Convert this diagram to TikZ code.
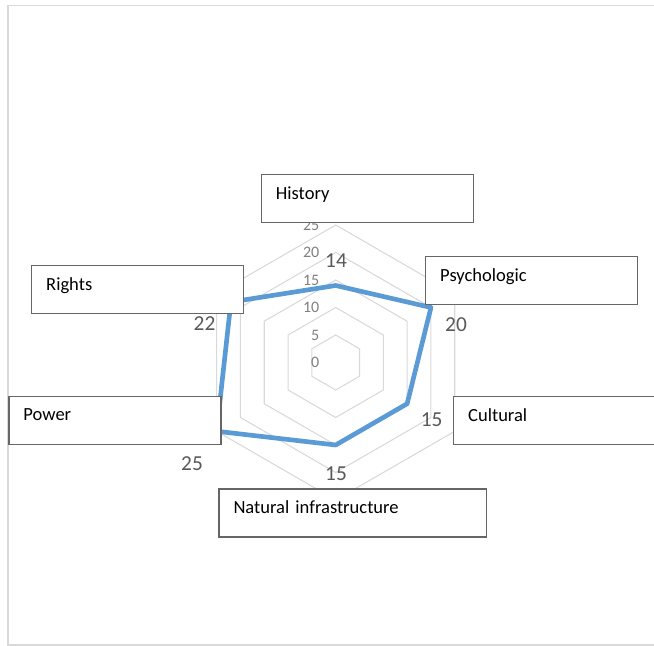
\documentclass[tikz,border=0pt]{standalone}
\usepackage{fontspec}
\setmainfont{Carlito}
\usepackage{tikz}
\definecolor{gridgray}{HTML}{D9D9D9}
\definecolor{boxline}{HTML}{666666}
\definecolor{seriesblue}{HTML}{5B9BD5}
\definecolor{labelgray}{HTML}{595959}
\definecolor{tickgray}{HTML}{7F7F7F}
\tikzset{
  ring/.style={draw=gridgray, line width=0.8pt},
  series/.style={draw=seriesblue, line width=3.5pt, line join=round},
  catbox/.style={draw=boxline, line width=1pt, fill=white, anchor=north west, align=left,
    inner xsep=10.9pt, inner ysep=0pt, text height=18.4pt, text depth=17.6pt,
    text width=137.25pt, font=\fontsize{13.9}{16}\selectfont},
  ticklabel/.style={anchor=east, inner sep=0pt, text=tickgray, font=\fontsize{12}{14}\selectfont},
  valuelabel/.style={inner sep=0pt, text=labelgray, font=\fontsize{16}{19}\selectfont}
}

\begin{document}
\begin{tikzpicture}[x=0.75pt, y=0.75pt]
   \clip (0,0) rectangle (654,646);
   \draw[color=gridgray, line width=1.1pt] (654,640.5) -- (8,640.5) -- (8,1) -- (654,1);
   \coordinate (centre) at (335.7,283.5);
   % rings 5..25
   \foreach \k in {1,...,5}
     \draw[ring, shift={(centre)}] (90:27.5*\k) -- (30:27.5*\k) -- (-30:27.5*\k)
       -- (-90:27.5*\k) -- (210:27.5*\k) -- (150:27.5*\k) -- cycle;
   \foreach \k/\v in {0/0, 1/5, 2/10, 3/15, 4/20, 5/25}
     \node[ticklabel] (tick\k) at (319.5,283.5+27.5*\k) {\v};
   % data
   \foreach \name/\ang/\val in {history/90/14, psych/30/20, cultural/-30/15,
                                natural/-90/15, power/210/25, rights/150/22}
     \path[shift={(centre)}] (\ang:5.5*\val) coordinate (v-\name);
   \draw[series] (v-history) -- (v-psych) -- (v-cultural) -- (v-natural)
     -- (v-power) -- (v-rights) -- cycle;
   \node[catbox] (history) at (260.7,472) {History};
   \node[catbox] (psych) at (425,390) {Psychologic};
   \node[catbox] (rights) at (31,381) {Rights};
   \node[catbox] (power) at (8.3,250.3) {Power};
   \node[catbox] (cultural) at (453,250) {Cultural};
   \node[catbox, text width=178.8pt] (natural) at (218.3,157.7) {Natural infrastructure};
   \node[valuelabel] (val-history) at (336,385.5) {14};
   \node[valuelabel] (val-psych) at (456,321.5) {20};
   \node[valuelabel] (val-cultural) at (431.7,226) {15};
   \node[valuelabel] (val-natural) at (336,172) {15};
   \node[valuelabel] (val-power) at (192,182.5) {25};
   \node[valuelabel] (val-rights) at (204.5,322) {22};
\end{tikzpicture}
\end{document}
